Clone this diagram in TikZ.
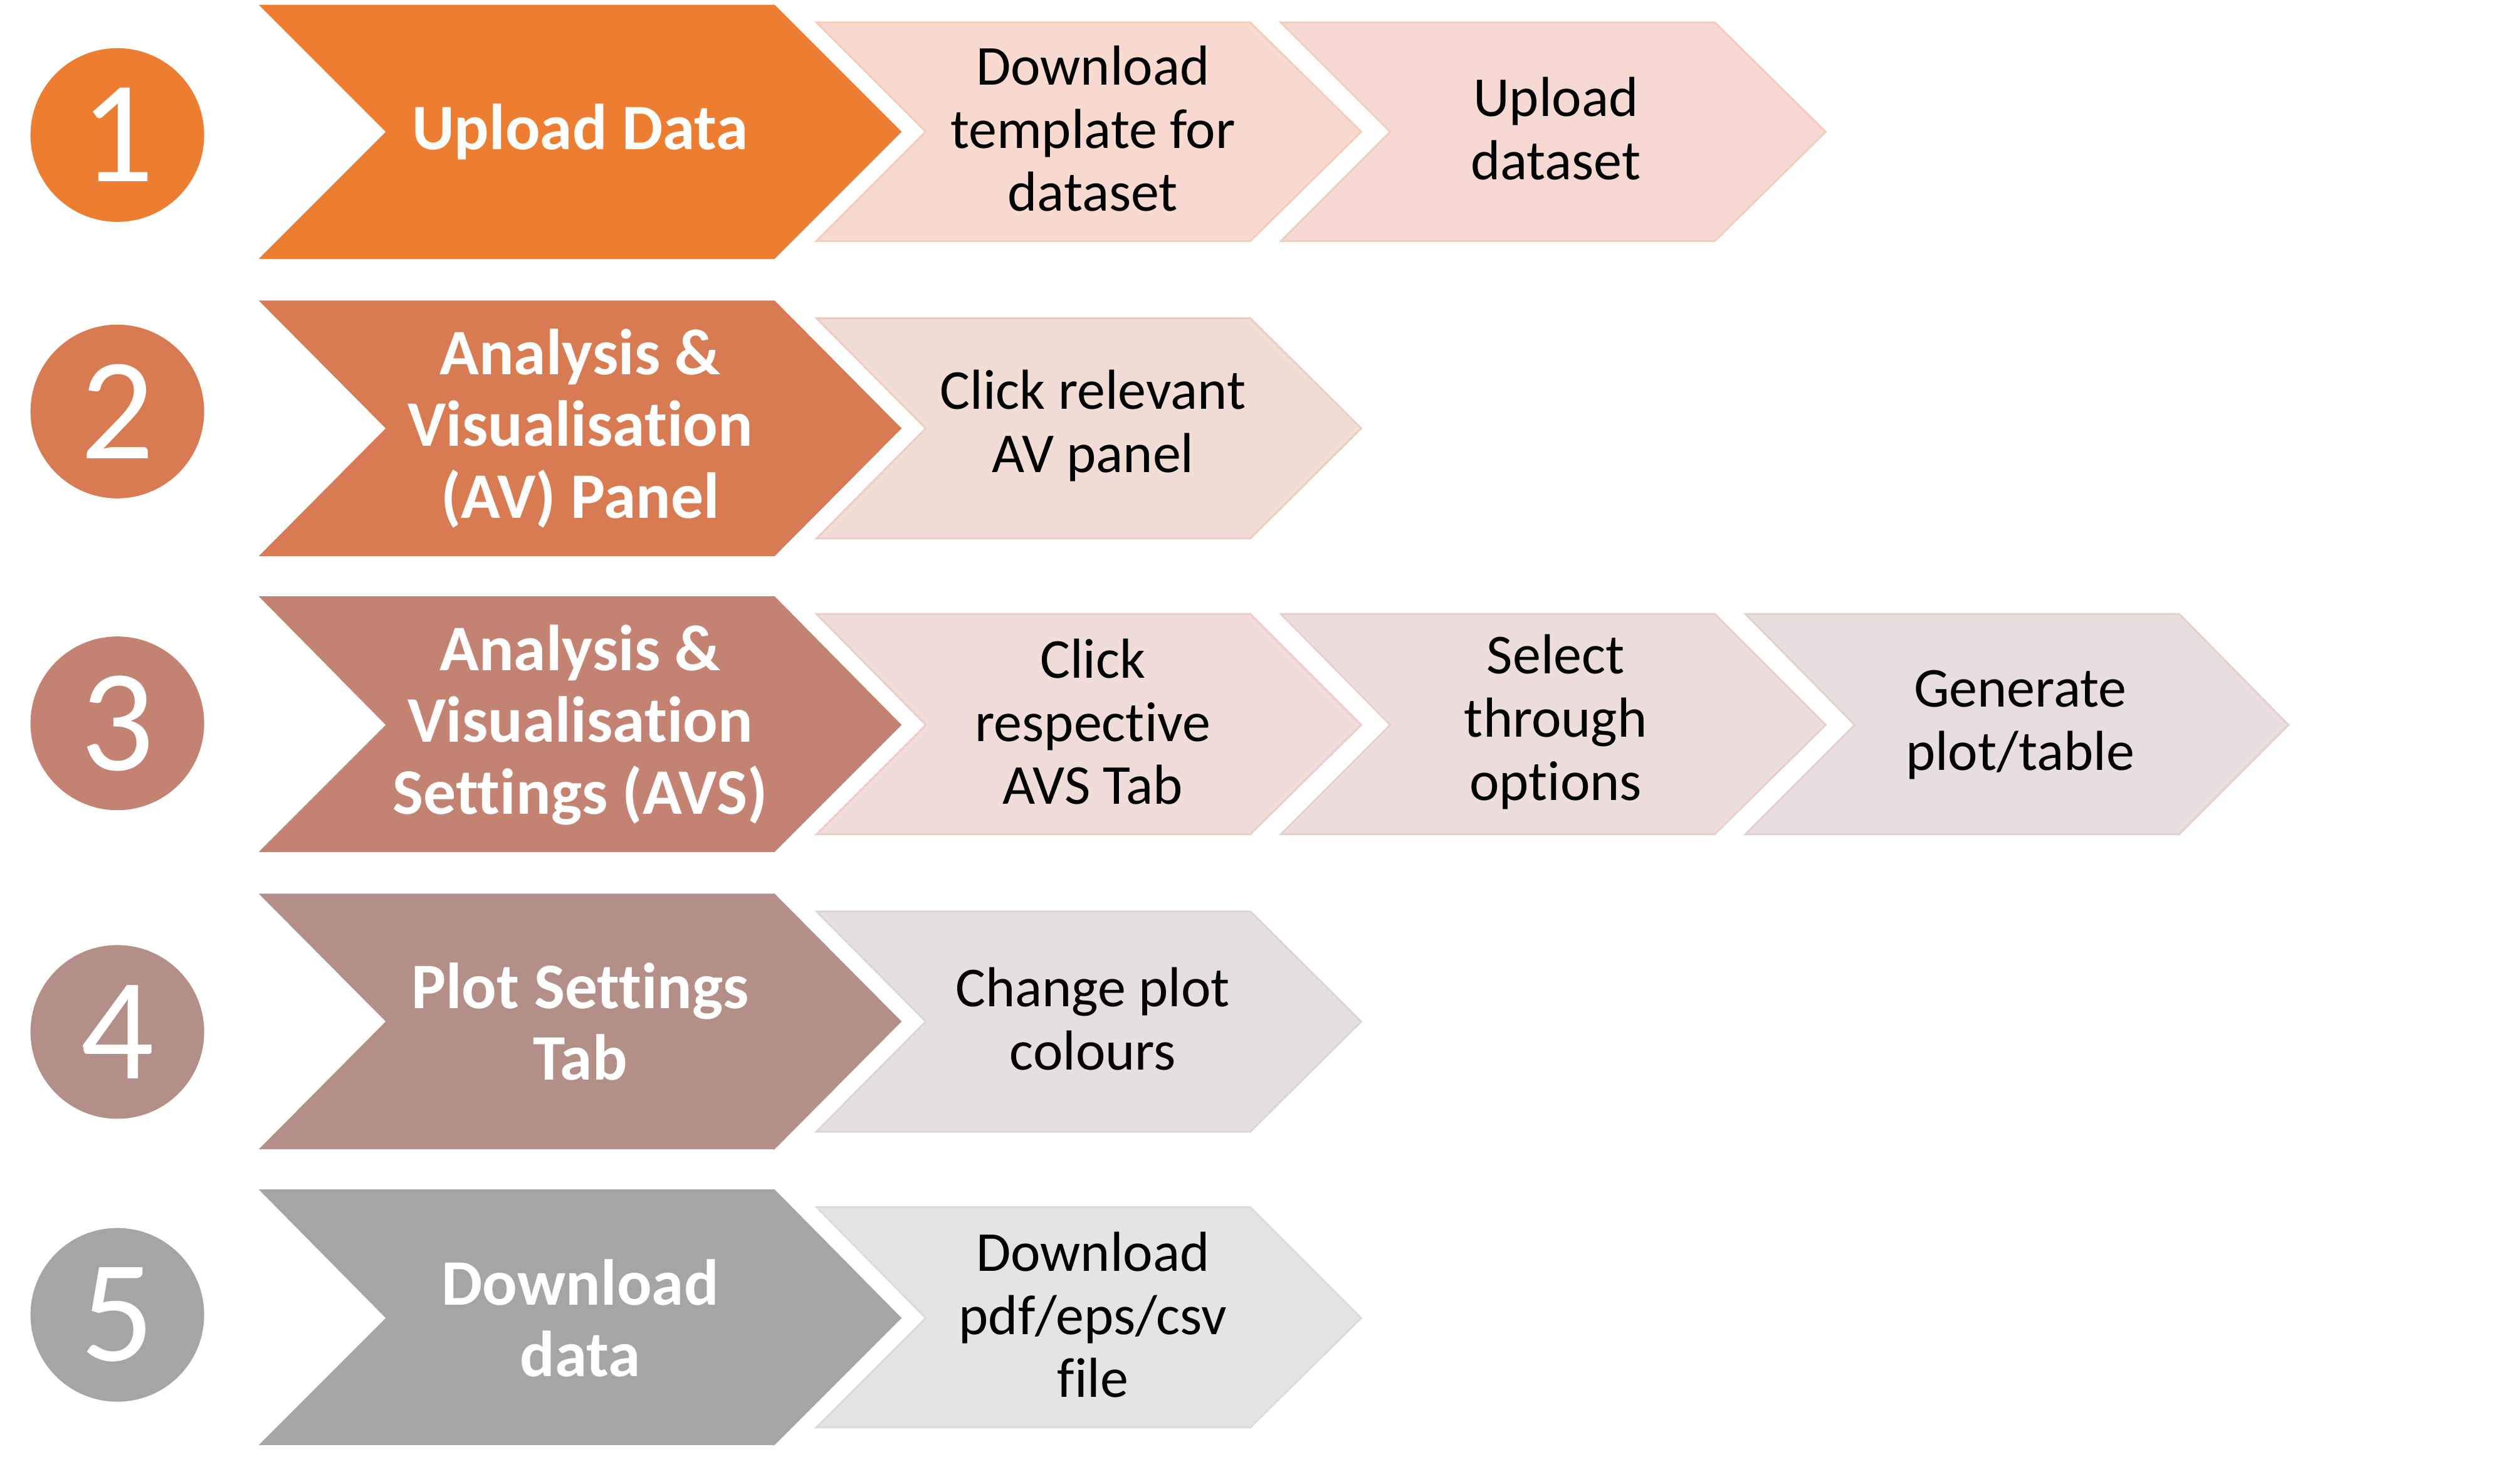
\documentclass[tikz,border=0pt]{standalone}
\usepackage{fontspec}
\setmainfont{Carlito}[Ligatures=NoCommon]

\definecolor{step1}{HTML}{ED7D31}
\definecolor{step2}{HTML}{D97B52}
\definecolor{step3}{HTML}{C48272}
\definecolor{step4}{HTML}{B48F88}
\definecolor{step5}{HTML}{A5A5A5}
\definecolor{sub11}{HTML}{F8DAD0}
\definecolor{sub12}{HTML}{F6D9D3}
\definecolor{sub21}{HTML}{F1DCD6}
\definecolor{sub31}{HTML}{F0DCD8}
\definecolor{sub32}{HTML}{EDDDDC}
\definecolor{sub33}{HTML}{E9DEDF}
\definecolor{sub41}{HTML}{E6DFE0}
\definecolor{sub51}{HTML}{E4E4E4}

\tikzset{
  numdot/.style={circle, inner sep=0pt, minimum size=2.77cm, text=white,
    font=\fontsize{66}{70}\selectfont},
  bigtext/.style={text=white, align=center,
    font=\fontsize{29.5}{32.5}\selectfont\bfseries},
  subtext/.style={text=black, align=center,
    font=\fontsize{25.6}{28.7}\selectfont},
  subchev/.style={line width=0.8pt, line join=miter},
}

\begin{document}
\begin{tikzpicture}[x=0.02564cm, y=-0.02564cm]
    \useasboundingbox (0,0) rectangle (1568,920);

% first row
    \node[numdot, fill=step1] (n1) at (73,84) {1};
    \fill[step1] (161,3) -- (482,3) -- (561,82) -- (482,161) -- (161,161) -- (240,82) -- cycle;
    \node[bigtext] (b1) at (361,82) {Upload Data};
    \filldraw[subchev, fill=sub11, draw=sub11!85!step1] (508,14) -- (778,14) -- (847,82) -- (778,150) -- (508,150) -- (576,82) -- cycle;
    \node[subtext] (s11) at (680,80) {Download\\template for\\dataset};
    \filldraw[subchev, fill=sub12, draw=sub12!85!step1] (797,14) -- (1067,14) -- (1136,82) -- (1067,150) -- (797,150) -- (865,82) -- cycle;
    \node[subtext] (s12) at (968,80) {Upload\\dataset};

% second row
    \node[numdot, fill=step2] (n2) at (73,256) {2};
    \fill[step2] (161,187) -- (482,187) -- (561,266.5) -- (482,346) -- (161,346) -- (240,266.5) -- cycle;
    \node[bigtext] (b2) at (361,266.5) {Analysis \&\\Visualisation\\(AV) Panel};
    \filldraw[subchev, fill=sub21, draw=sub21!85!step2] (508,198) -- (778,198) -- (847,266.5) -- (778,335) -- (508,335) -- (576,266.5) -- cycle;
    \node[subtext] (s21) at (680,265) {Click relevant\\AV panel};

% third row
    \node[numdot, fill=step3] (n3) at (73,450) {3};
    \fill[step3] (161,371) -- (482,371) -- (561,451) -- (482,530) -- (161,530) -- (240,451) -- cycle;
    \node[bigtext] (b3) at (361,451) {Analysis \&\\Visualisation\\Settings (AVS)};
    \filldraw[subchev, fill=sub31, draw=sub31!85!step3] (508,382) -- (778,382) -- (847,451) -- (778,519) -- (508,519) -- (576,451) -- cycle;
    \node[subtext] (s31) at (680,449) {Click\\respective\\AVS Tab};
    \filldraw[subchev, fill=sub32, draw=sub32!85!step3] (797,382) -- (1067,382) -- (1136,451) -- (1067,519) -- (797,519) -- (865,451) -- cycle;
    \node[subtext] (s32) at (968,449) {Select\\through\\options};
    \filldraw[subchev, fill=sub33, draw=sub33!85!step3] (1086,382) -- (1356,382) -- (1424,451) -- (1356,519) -- (1086,519) -- (1154,451) -- cycle;
    \node[subtext] (s33) at (1257,451) {Generate\\plot/table};

% fourth row
    \node[numdot, fill=step4] (n4) at (73,642) {4};
    \fill[step4] (161,556) -- (482,556) -- (561,635.5) -- (482,715) -- (161,715) -- (240,635.5) -- cycle;
    \node[bigtext] (b4) at (361,635.5) {Plot Settings\\Tab};
    \filldraw[subchev, fill=sub41, draw=sub41!85!step4] (508,567) -- (778,567) -- (847,635.5) -- (778,704) -- (508,704) -- (576,635.5) -- cycle;
    \node[subtext] (s41) at (680,634) {Change plot\\colours};

% fifth row
    \node[numdot, fill=step5] (n5) at (73,818) {5};
    \fill[step5] (161,740) -- (482,740) -- (561,820) -- (482,899) -- (161,899) -- (240,820) -- cycle;
    \node[bigtext] (b5) at (361,820) {Download\\data};
    \filldraw[subchev, fill=sub51, draw=sub51!85!step5] (508,751) -- (778,751) -- (847,820) -- (778,888) -- (508,888) -- (576,820) -- cycle;
    \node[subtext] (s51) at (680,818) {Download\\pdf/eps/csv\\file};

\end{tikzpicture}
\end{document}
